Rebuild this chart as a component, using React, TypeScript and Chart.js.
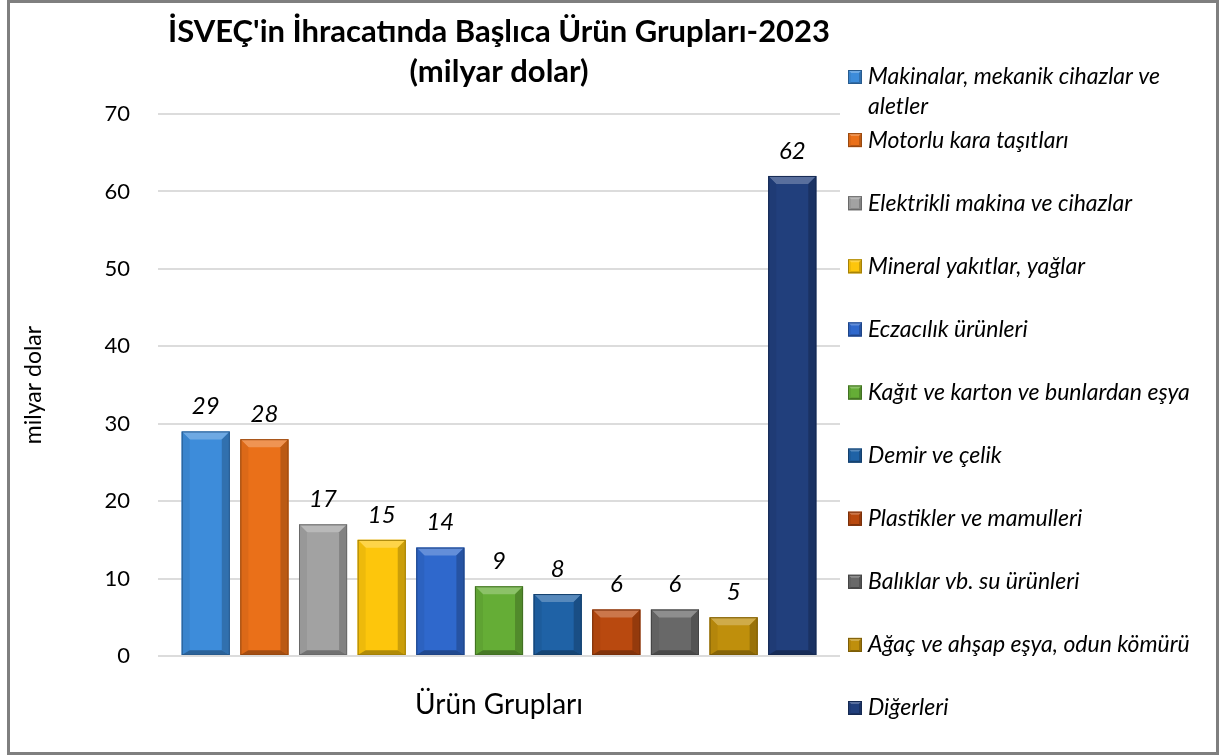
import React, { useEffect, useRef } from "react";
import { Chart, registerables } from "chart.js";

Chart.register(...registerables);

const chartTitle = ["İSVEÇ'in İhracatında Başlıca Ürün Grupları-2023", "(milyar dolar)"];
const categories = ["Ürün Grupları"];
const yAxisTitle = "milyar dolar";
const xAxisTitle = "Ürün Grupları";

const seriesLabels = [
  "Makinalar, mekanik cihazlar ve aletler",
  "Motorlu kara taşıtları",
  "Elektrikli makina ve cihazlar",
  "Mineral yakıtlar, yağlar",
  "Eczacılık ürünleri",
  "Kağıt ve karton ve bunlardan eşya",
  "Demir ve çelik",
  "Plastikler ve mamulleri",
  "Balıklar vb. su ürünleri",
  "Ağaç ve ahşap eşya, odun kömürü",
  "Diğerleri",
];
const seriesValues = [29, 28, 17, 15, 14, 9, 8, 6, 6, 5, 62];
const seriesColors = [
  "#3d8cda",
  "#ea7019",
  "#a2a2a2",
  "#fdc60c",
  "#2f68cc",
  "#65ad36",
  "#1f62a6",
  "#b9490f",
  "#686868",
  "#bf8f0c",
  "#213f7c",
];
const yTicks = [0, 10, 20, 30, 40, 50, 60, 70];

const FONT = "Lato, 'Open Sans', sans-serif";

function shade(hex: string, f: number): string {
  const n = parseInt(hex.slice(1), 16);
  let r = (n >> 16) & 255;
  let g = (n >> 8) & 255;
  let b = n & 255;
  if (f < 0) {
    r = Math.round(r * (1 + f));
    g = Math.round(g * (1 + f));
    b = Math.round(b * (1 + f));
  } else {
    r = Math.round(r + (255 - r) * f);
    g = Math.round(g + (255 - g) * f);
    b = Math.round(b + (255 - b) * f);
  }
  return `rgb(${r},${g},${b})`;
}

function drawBevel(
  ctx: CanvasRenderingContext2D,
  l: number,
  t: number,
  r: number,
  b: number,
  color: string,
  d: number
) {
  const dd = Math.max(0, Math.min(d, (r - l) / 2, (b - t) / 2));
  const poly = (pts: number[][], fill: string) => {
    ctx.beginPath();
    ctx.moveTo(pts[0][0], pts[0][1]);
    for (let i = 1; i < pts.length; i++) ctx.lineTo(pts[i][0], pts[i][1]);
    ctx.closePath();
    ctx.fillStyle = fill;
    ctx.fill();
  };
  poly([[l, t], [r, t], [r - dd, t + dd], [l + dd, t + dd]], shade(color, 0.25));
  poly([[l, t], [l + dd, t + dd], [l + dd, b - dd * 0.6], [l, b]], shade(color, -0.06));
  poly([[r, t], [r, b], [r - dd, b - dd * 0.6], [r - dd, t + dd]], shade(color, -0.2));
  poly([[l, b], [r, b], [r - dd, b - dd * 0.6], [l + dd, b - dd * 0.6]], shade(color, -0.3));
  ctx.strokeStyle = shade(color, -0.35);
  ctx.lineWidth = 1;
  ctx.strokeRect(l + 0.5, t + 0.5, r - l - 1, b - t - 1);
}

function wrapText(ctx: CanvasRenderingContext2D, text: string, maxWidth: number): string[] {
  const words = text.split(" ");
  const lines: string[] = [];
  let cur = "";
  for (const w of words) {
    const test = cur ? cur + " " + w : w;
    if (ctx.measureText(test).width > maxWidth && cur) {
      lines.push(cur);
      cur = w;
    } else {
      cur = test;
    }
  }
  if (cur) lines.push(cur);
  return lines;
}

const barDecor = {
  id: "barDecor",
  afterDatasetsDraw(chart: any) {
    const ctx: CanvasRenderingContext2D = chart.ctx;
    ctx.save();
    chart.data.datasets.forEach((ds: any, i: number) => {
      const meta = chart.getDatasetMeta(i);
      meta.data.forEach((el: any, j: number) => {
        const { x, y, base, width } = el.getProps(["x", "y", "base", "width"], true);
        const l = x - width / 2;
        const r = x + width / 2;
        drawBevel(ctx, l, y, r, base, seriesColors[i], 8);
        ctx.font = `italic 24px ${FONT}`;
        ctx.fillStyle = "#000";
        ctx.textAlign = "center";
        ctx.textBaseline = "middle";
        ctx.fillText(String(ds.data[j]), x, y - 25);
      });
    });
    ctx.restore();
  },
};

const sideLegend = {
  id: "sideLegend",
  afterDraw(chart: any) {
    const ctx: CanvasRenderingContext2D = chart.ctx;
    const area = chart.chartArea;
    const n = chart.data.datasets.length;
    const x0 = area.right + 8;
    const startY = area.top - 37;
    const step = (area.bottom + 52 - startY) / (n - 1);
    ctx.save();
    ctx.textAlign = "left";
    ctx.textBaseline = "middle";
    chart.data.datasets.forEach((ds: any, i: number) => {
      const cy = startY + i * step;
      ctx.fillStyle = seriesColors[i];
      ctx.fillRect(x0, cy - 7, 14, 14);
      drawBevel(ctx, x0, cy - 7, x0 + 14, cy + 7, seriesColors[i], 3);
      ctx.font = `italic 23px ${FONT}`;
      ctx.fillStyle = "#000";
      const lines = wrapText(ctx, ds.label, chart.width - (x0 + 20) - 4);
      lines.forEach((ln, k) => ctx.fillText(ln, x0 + 20, cy + k * 30));
    });
    ctx.restore();
  },
};

export default function App() {
  const ref = useRef<HTMLCanvasElement | null>(null);

  useEffect(() => {
    if (!ref.current) return;
    const chart = new Chart(ref.current, {
      type: "bar",
      data: {
        labels: categories,
        datasets: seriesLabels.map((label, i) => ({
          label,
          data: [seriesValues[i]],
          backgroundColor: seriesColors[i],
          borderWidth: 0,
          categoryPercentage: 0.946,
          barPercentage: 0.82,
        })),
      },
      options: {
        animation: false,
        responsive: false,
        maintainAspectRatio: false,
        devicePixelRatio: 1,
        layout: { padding: { left: 0, top: 0, right: 376, bottom: 0 } },
        plugins: {
          legend: { display: false },
          tooltip: { enabled: false },
          title: {
            display: true,
            text: chartTitle,
            fullSize: false,
            color: "#000",
            font: { family: FONT, size: 31, weight: "bold", lineHeight: "40px" },
            padding: { top: 9, bottom: 22 },
          },
        },
        scales: {
          x: {
            grid: { display: false },
            border: { display: false },
            ticks: { display: false },
            title: {
              display: true,
              text: xAxisTitle,
              color: "#000",
              font: { family: FONT, size: 28, lineHeight: 1.2 },
              padding: { top: 0, bottom: 30 },
            },
            afterFit: (scale: any) => {
              scale.height = 96;
            },
          },
          y: {
            min: yTicks[0],
            max: yTicks[yTicks.length - 1],
            grid: { color: "#dcdcdc", lineWidth: 2, drawTicks: false },
            border: { display: false },
            ticks: {
              stepSize: yTicks[1] - yTicks[0],
              padding: 28,
              color: "#000",
              font: { family: FONT, size: 22 },
            },
            title: {
              display: true,
              text: yAxisTitle,
              color: "#000",
              font: { family: FONT, size: 23, lineHeight: 1.2 },
              padding: { top: 10, bottom: 0 },
            },
            afterFit: (scale: any) => {
              scale.width = 148;
            },
          },
        },
      },
      plugins: [barDecor, sideLegend],
    } as any);
    return () => chart.destroy();
  }, []);

  return (
    <div
      style={{
        position: "fixed",
        left: 7,
        top: 0,
        width: 1212,
        height: 755,
        border: "3px solid #7f7f7f",
        boxSizing: "border-box",
        background: "#fff",
      }}
    >
      <canvas
        ref={ref}
        width={1206}
        height={749}
        style={{ position: "absolute", left: 0, top: 0, width: 1206, height: 749 }}
      />
    </div>
  );
}
